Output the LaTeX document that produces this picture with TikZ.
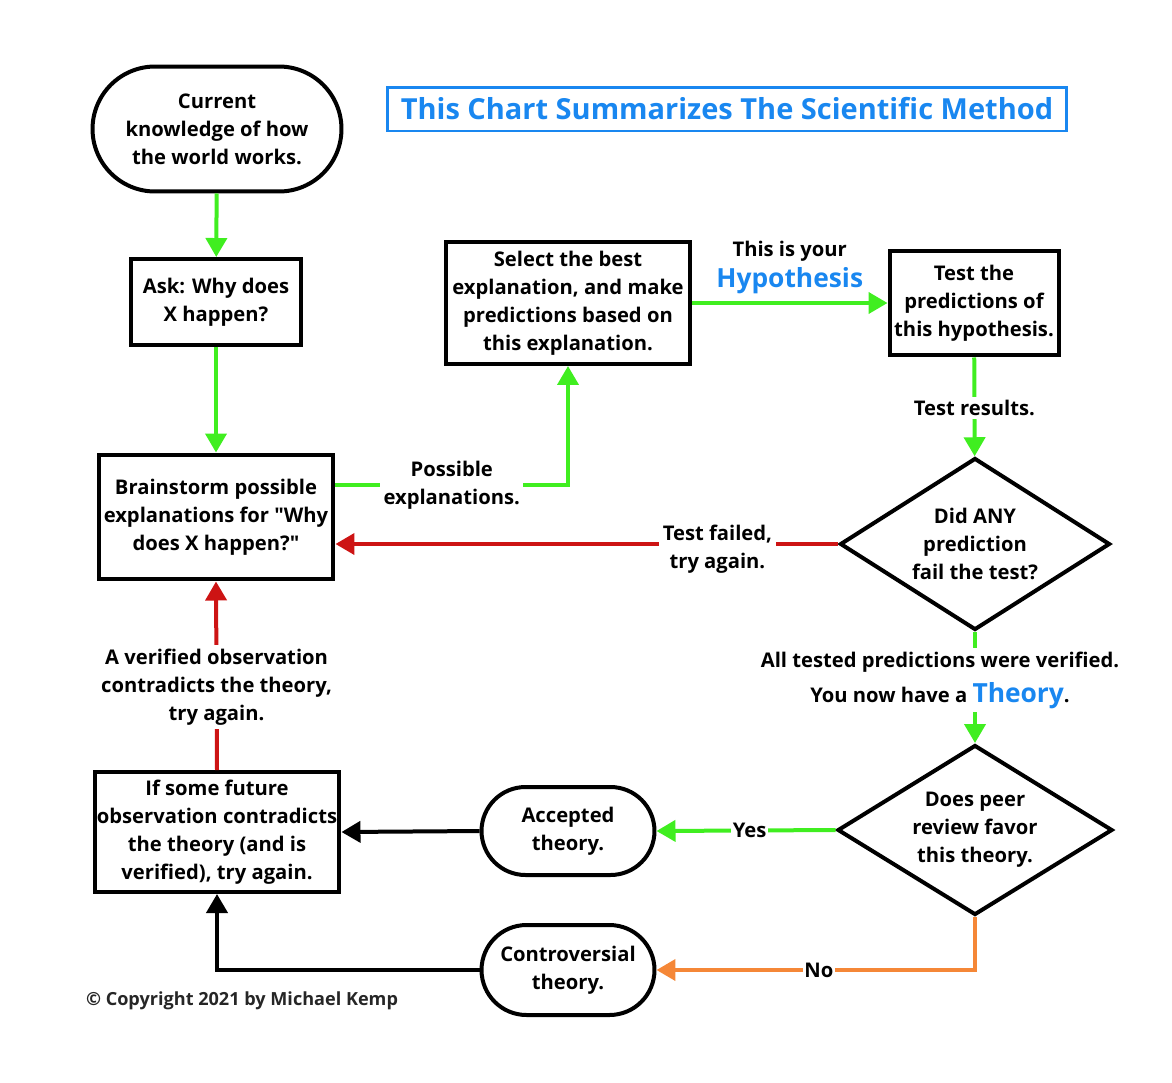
\documentclass[tikz,border=0pt]{standalone}
\usepackage{fontspec}
\setmainfont{Open Sans}
\usetikzlibrary{shapes.geometric,shapes.misc,arrows.meta,calc}
\definecolor{lgreen}{RGB}{64,238,32}
\definecolor{lred}{RGB}{205,20,20}
\definecolor{lorange}{RGB}{245,135,55}
\definecolor{lblue}{RGB}{25,135,240}

\begin{document}
\begin{tikzpicture}[x=0.02cm,y=-0.02cm,
  font=\bfseries\fontsize{11.5}{15.9}\selectfont,
  box/.style={draw,line width=0.08cm,align=center,inner sep=0pt},
  pill/.style={box,rounded rectangle},
  decide/.style={box,diamond,aspect=1.6},
  lbl/.style={fill=white,text=black,align=center,inner sep=2pt},
  flow/.style={line width=0.08cm,-{Triangle[length=0.38cm,width=0.42cm]}},
  go/.style={flow,lgreen},
  back/.style={flow,lred},
  maybe/.style={flow,lorange},
  plain/.style={flow,black}]
  \useasboundingbox (0,0) rectangle (1172,1082);

  \node [pill,minimum width=4.98cm,minimum height=2.5cm] (know) at (217,129)
    {Current\\knowledge of how\\the world works.};
  \node [box,minimum width=3.42cm,minimum height=1.72cm] (ask) at (216,302)
    {Ask: Why does\\X happen?};
  \node [box,minimum width=4.7cm,minimum height=2.5cm] (brain) at (216,517)
    {Brainstorm possible\\explanations for \textquotedbl Why\\does X happen?\textquotedbl};
  \node [box,minimum width=4.88cm,minimum height=2.44cm] (select) at (568,303)
    {Select the best\\explanation, and make\\predictions based on\\this explanation.};
  \node [box,minimum width=3.38cm,minimum height=2.1cm] (test) at (974,303)
    {Test the\\predictions of\\this hypothesis.};
  \node [decide,minimum width=5.4cm,minimum height=3.44cm] (fail) at (975,544)
    {Did ANY\\prediction\\fail the test?};
  \node [decide,minimum width=5.5cm,minimum height=3.4cm] (peer) at (975,830)
    {Does peer\\review favor\\this theory.};
  \node [pill,minimum width=3.46cm,minimum height=1.76cm] (accept) at (568,831)
    {Accepted\\theory.};
  \node [pill,minimum width=3.46cm,minimum height=1.8cm] (contro) at (568,970)
    {Controversial\\theory.};
  \node [box,minimum width=4.9cm,minimum height=2.4cm] (future) at (217,832)
    {If some future\\observation contradicts\\the theory (and is\\verified), try again.};

  \node [draw=lblue,line width=0.06cm,minimum width=13.6cm,minimum height=0.88cm,
    text=lblue,font=\bfseries\fontsize{16.5}{20}\selectfont] (title) at (727,109)
    {This Chart Summarizes The Scientific Method};
  \node [font=\bfseries\fontsize{10.3}{13}\selectfont,text=black!85] (copy) at (242,1001)
    {\textcopyright{} Copyright 2021 by Michael Kemp};

  \draw [go] (know) -- (ask);
  \draw [go] (ask) -- (brain);
  \draw [go] ($(brain.east)+(0,-32)$) -| node [lbl,pos=0.25] {Possible\\explanations.} (select.south);
  \draw [go] (select.east) -- node [above=4pt,text=black,align=center,inner sep=0pt]
    {This is your\\[2pt]{\color{lblue}\fontsize{15}{20}\selectfont Hypothesis}} (test.west);
  \draw [go] (test) -- node [lbl,pos=0.51] {Test results.} (fail);
  \draw [back] (fail.west) -- node [lbl,pos=0.24,yshift=-3pt] {Test failed,\\try again.} (fail.west -| brain.east);
  \draw [go] (fail.south) -- (peer.north);
  \node [lbl] (verified) at (940,680)
    {All tested predictions were verified.\\[4pt]You now have a {\color{lblue}\fontsize{15}{18}\selectfont Theory}.};
  \draw [go] (peer.west) -- node [lbl,pos=0.48,inner sep=1pt] {Yes} (accept.east);
  \draw [maybe] (peer.south) |- node [lbl,pos=0.745,inner sep=1pt] {No} (contro.east);
  \draw [plain] (accept.west) -- (future.east);
  \draw [plain] (contro.west) -| (future.south);
  \draw [back] (future.north) -- node [lbl,pos=0.44]
    {A verified observation\\contradicts the theory,\\try again.} (brain.south);
\end{tikzpicture}
\end{document}
